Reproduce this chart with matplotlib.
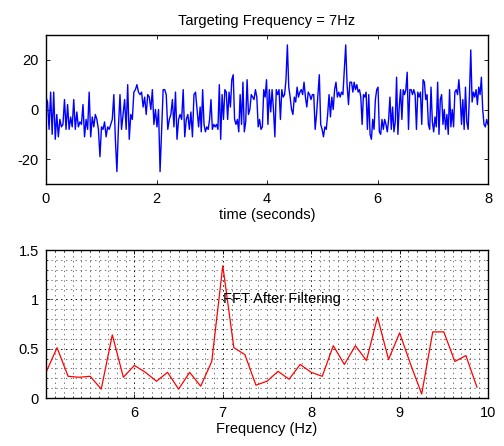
import numpy as np
import matplotlib.pyplot as plt

plt.rcParams['font.family'] = ['Liberation Sans', 'DejaVu Sans']
plt.rcParams['font.size'] = 10
plt.rcParams['lines.scale_dashes'] = False
plt.rcParams['axes.unicode_minus'] = False

######################
# DATA

# Time signal, in three stretches (values in arbitrary units)
seg1_span = (0.0, 2.79)
seg1 = [5, 3, -8, 7, -10, 7, -12, -2, -11, -4, -7, -6, 4, -8, 2, -8, -3, -7, 4, -8,
        -1, -7, -5, -6, 2, -11, -4, -8, 7, -11, -3, -7, -2, -4, -8, -19, -7, -8, -5, -11,
        -7, -8, -6, -4, 6, -12, -25, -7, 6, -8, -2, 4, -8, 10, -12, -2, -4, 7, 8, 10,
        7, 6, 7, 1, 5, -2, 6, 5, 0, 8, -6, 0, -7, 0, -25, -8, 8, 8, 6, -8,
        -4, -2, 4, -7, 7, -12, -4, -2, -4, 8, -11, -4, -2, -8, -1, -11, 6, 7, 0, -7, 1]
seg2_span = (2.81, 5.50)
seg2 = [-9, 8, -6, -9, -7, -8, -4, 4, -8, -6, -7, -6, -8, 10, -12, 6, -4, 8, 7, -4,
        7, 1, 12, 14, -4, -6, -4, -9, 6, -6, 11, -9, -5, 12, -2, 0, 6, 5, 4, 8,
        5, -7, -4, -8, -7, 8, 5, 12, -6, 8, -1, 8, 0, -11, 8, 6, 8, -4, 8, 5,
        6, 12, 26, 9, 5, 0, -2, 5, 3, 9, 5, 7, 8, 6, 11, 5, 1, 7, 6, 4,
        6, 6, -8, -2, 6, 14, -6, -8, -11, -7, -8, -2, 6, -3, 5, 0, 8, 11, 5, 7,
        5, 7, 6, 16, 26, 10, 2, 11]
seg3_span = (5.53, 8.0)
seg3 = [11, 7, 11, 8, 10, 7, 8, 5, -6, 6, 5, 7, -8, 6, -10, -12, -4, -8, 4, 8,
        9, -9, -10, -4, -8, -4, -6, -9, -4, 5, -8, 1, -9, -5, 13, -10, 1, 8, -4, 8,
        6, 8, 15, -8, 8, 8, 6, 8, 6, -8, 7, 5, 7, -6, 12, 11, 4, 6, -6, -8,
        9, -5, -9, -3, -7, 11, -10, 4, 6, -6, 0, -8, -2, -10, 8, -7, 0, -7, 7, 8,
        6, 12, 5, -6, 4, -8, 9, -5, -8, 6, 24, 3, 7, 5, 8, 2, 9, 6, 13, 0,
        -6, -7, -4, -6]

# FFT magnitude after filtering, 0.125 Hz bins from 5 Hz
f_start = 5.0
f_step = 0.125
fft_mag = [0.26, 0.51, 0.22, 0.21, 0.22, 0.09, 0.64, 0.21, 0.33, 0.26,
           0.17, 0.26, 0.09, 0.26, 0.12, 0.37, 1.34, 0.51, 0.44, 0.13,
           0.17, 0.27, 0.19, 0.34, 0.26, 0.22, 0.53, 0.34, 0.53, 0.38,
           0.82, 0.39, 0.66, 0.34, 0.04, 0.67, 0.67, 0.37, 0.43, 0.11]

title_txt = 'Targeting Frequency = 7Hz'
label_txt = 'FFT After Filtering'

# END DATA
######################

t = np.concatenate([np.linspace(*seg1_span, len(seg1)),
                    np.linspace(*seg2_span, len(seg2)),
                    np.linspace(*seg3_span, len(seg3))])
x = np.array(seg1 + seg2 + seg3, dtype=float)
freqs = f_start + f_step * np.arange(len(fft_mag))

fig = plt.figure(figsize=(5.04, 4.46), dpi=100)
W, H = 504, 446
ax1 = fig.add_axes([46 / W, 1 - 184 / H, 442 / W, 149 / H])
ax2 = fig.add_axes([46 / W, 1 - 398 / H, 442 / W, 148 / H])

# Top: time signal
ax1.plot(t, x, color='b', lw=1.0)
ax1.set_xlim(0, 8)
ax1.set_ylim(-30, 30)
ax1.set_xticks([0, 2, 4, 6, 8])
ax1.set_yticks([-20, 0, 20])
ax1.set_title(title_txt, fontsize=10.5, pad=7)
ax1.set_xlabel('time (seconds)', fontsize=10.5, labelpad=1)

# Bottom: spectrum
ax2.plot(freqs, fft_mag, color='r', lw=0.9)
ax2.set_xlim(5, 10)
ax2.set_ylim(0, 1.5)
ax2.set_xticks([6, 7, 8, 9, 10])
ax2.set_yticks([0, 0.5, 1, 1.5])
ax2.set_yticklabels(['0', '0.5', '1', '1.5'])
ax2.set_xticks(np.arange(5, 10.01, 0.1), minor=True)
ax2.set_yticks(np.arange(0, 1.501, 0.1), minor=True)
ax2.grid(True, which='major', color='k', ls=(0, (1, 2.5)), lw=0.7)
ax2.grid(True, which='minor', color='0.25', ls=(0, (1, 2.5)), lw=0.5)
ax2.set_axisbelow(True)
ax2.text(7, 1, label_txt, ha='left', va='center', fontsize=10.5)
ax2.set_xlabel('Frequency (Hz)', fontsize=10.5, labelpad=1)

for ax in (ax1, ax2):
    ax.tick_params(which='major', direction='in', top=True, right=True,
                   length=3, width=0.6, pad=5, labelsize=10.5)
    ax.tick_params(axis='x', which='major', pad=6)
    ax.tick_params(which='minor', direction='in', top=True, right=True,
                   length=1.5, width=0.5)
    for s in ax.spines.values():
        s.set_linewidth(1.0)

fig.savefig('out.png', dpi=100)
